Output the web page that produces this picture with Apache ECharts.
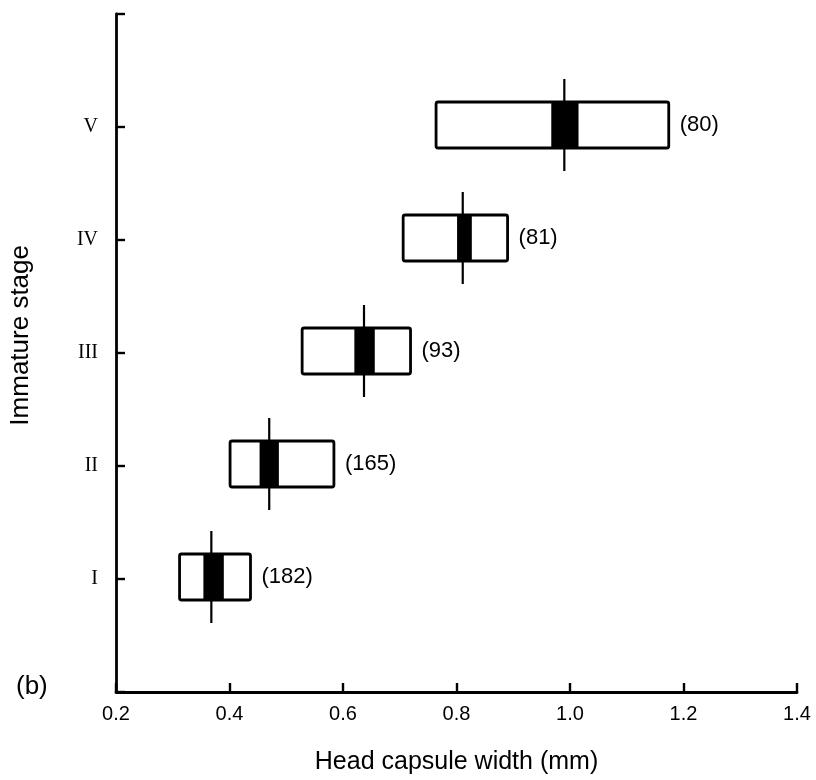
<!DOCTYPE html>
<html>
<head>
<meta charset="utf-8">
<script src="https://cdn.jsdelivr.net/npm/echarts@6/dist/echarts.min.js"></script>
<style>
  html, body { margin: 0; padding: 0; background: #fff; }
  #chart { width: 816px; height: 780px; }
</style>
</head>
<body>
<div id="chart"></div>
<script>
// Head capsule width by immature stage
const stageLabels = ['', 'I', 'II', 'III', 'IV', 'V', ''];
const stageIndex = [1, 2, 3, 4, 5];
const rangeMin = [0.312, 0.401, 0.528, 0.706, 0.764];
const rangeMax = [0.437, 0.584, 0.719, 0.890, 1.174];
const innerLow = [0.354, 0.453, 0.620, 0.801, 0.967];
const innerHigh = [0.390, 0.487, 0.656, 0.827, 1.015];
const meanWidth = [0.368, 0.470, 0.637, 0.811, 0.990];
const sampleSize = [182, 165, 93, 81, 80];
const xTicks = [0.2, 0.4, 0.6, 0.8, 1.0, 1.2, 1.4];

const rows = stageIndex.map((s, i) => [
  meanWidth[i], s, rangeMin[i], rangeMax[i], innerLow[i], innerHigh[i], sampleSize[i]
]);

const chart = echarts.init(document.getElementById('chart'));

const BOX_HALF = 23;     // px, half height of the range box
const STEM_HALF = 46;    // px, half length of the vertical mean line
const SANS = '"Liberation Sans", Arial, sans-serif';

function renderItem(params, api) {
  const s = api.value(1);
  const pMin = api.coord([api.value(2), s]);
  const pMax = api.coord([api.value(3), s]);
  const pLo = api.coord([api.value(4), s]);
  const pHi = api.coord([api.value(5), s]);
  const pM = api.coord([api.value(0), s]);
  const y = pM[1] - 2;
  return {
    type: 'group',
    children: [
      {
        type: 'rect',
        shape: { x: pMin[0], y: y - BOX_HALF, width: pMax[0] - pMin[0], height: 2 * BOX_HALF, r: 2 },
        style: { fill: '#fff', stroke: '#000', lineWidth: 2.8 }
      },
      {
        type: 'rect',
        shape: { x: pLo[0], y: y - BOX_HALF, width: pHi[0] - pLo[0], height: 2 * BOX_HALF },
        style: { fill: '#000' }
      },
      {
        type: 'line',
        shape: { x1: pM[0], y1: y - STEM_HALF, x2: pM[0], y2: y + STEM_HALF },
        style: { stroke: '#000', lineWidth: 2.2 }
      },
      {
        type: 'text',
        x: pMax[0] + 11,
        y: y,
        style: {
          text: '(' + api.value(6) + ')',
          fill: '#000',
          font: '22px ' + SANS,
          verticalAlign: 'middle',
          align: 'left'
        }
      }
    ]
  };
}

chart.setOption({
  backgroundColor: '#fff',
  animation: false,
  grid: { left: 116, right: 19, top: 14, bottom: 88, containLabel: false },
  xAxis: {
    type: 'value',
    min: xTicks[0],
    max: xTicks[xTicks.length - 1],
    interval: 0.2,
    name: 'Head capsule width (mm)',
    nameLocation: 'middle',
    nameGap: 58,
    nameTextStyle: { fontSize: 25, color: '#000', fontFamily: SANS },
    axisLine: { lineStyle: { color: '#000', width: 2.8 } },
    axisTick: { inside: true, length: 9, lineStyle: { color: '#000', width: 2.4 } },
    axisLabel: {
      color: '#000', fontSize: 20, margin: 12,
      fontFamily: SANS,
      formatter: v => Number(v).toFixed(1)
    },
    splitLine: { show: false }
  },
  yAxis: {
    type: 'value',
    min: 0,
    max: stageLabels.length - 1,
    interval: 1,
    axisLine: { lineStyle: { color: '#000', width: 2.8 } },
    axisTick: { inside: true, length: 9, lineStyle: { color: '#000', width: 2.4 } },
    axisLabel: {
      color: '#000', fontSize: 20, margin: 18,
      fontFamily: '"Liberation Serif", "Times New Roman", serif',
      formatter: v => stageLabels[Math.round(v)] || ''
    },
    splitLine: { show: false }
  },
  graphic: [
    {
      type: 'text',
      left: 8,
      top: 245,
      rotation: Math.PI / 2,
      style: {
        text: 'Immature stage',
        fill: '#000',
        font: '26px ' + SANS
      }
    },
    {
      type: 'text',
      left: 16,
      top: 674,
      style: {
        text: '(b)',
        fill: '#000',
        font: '26px ' + SANS
      }
    }
  ],
  series: [
    {
      type: 'custom',
      renderItem: renderItem,
      data: rows,
      encode: { x: 0, y: 1 },
      silent: true
    }
  ]
});
</script>
</body>
</html>
